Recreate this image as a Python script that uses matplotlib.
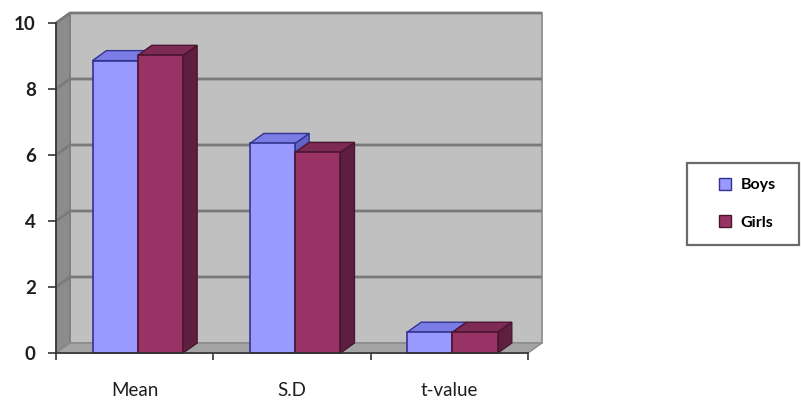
import matplotlib.pyplot as plt
from matplotlib.patches import Polygon, Rectangle
from matplotlib.lines import Line2D

# Group statistics for boys and girls
categories = ['Mean', 'S.D', 't-value']
boys = [8.86, 6.35, 0.63]
girls = [9.02, 6.08, 0.63]
series_names = ['Boys', 'Girls']
y_ticks = [0, 2, 4, 6, 8, 10]

# face colours: front, top, side, edge
boys_col = ('#9999ff', '#7c7ce6', '#6262c8', '#33338f')
girls_col = ('#993366', '#7d2a55', '#5e1f40', '#4a1530')

plt.rcParams['font.family'] = ['Lato', 'DejaVu Sans']

fig = plt.figure(figsize=(8.01, 4.01), dpi=100)
# plot area: x 56..528 px, y 23..353 px (from top)
ax = fig.add_axes([56 / 801, (401 - 353) / 401, 472 / 801, 330 / 401])
ax.set_xlim(0, 3)
ax.set_ylim(0, 10)
ax.patch.set_visible(False)

# depth offset of the 3-D box (data units)
dx = 14 / (472 / 3)
dy = 10 / 33
ymax = 10
ncat = len(categories)

# back wall, side wall and floor
ax.add_patch(Polygon([(dx, dy), (ncat + dx, dy), (ncat + dx, ymax + dy), (dx, ymax + dy)],
                     closed=True, fc='#c0c0c0', ec='#8a8a8a', lw=1.2, zorder=1, clip_on=False))
ax.add_patch(Polygon([(0, 0), (dx, dy), (dx, ymax + dy), (0, ymax)],
                     closed=True, fc='#8c8c8c', ec='#7a7a7a', lw=1.0, zorder=1, clip_on=False))
ax.add_patch(Polygon([(0, 0), (ncat, 0), (ncat + dx, dy), (dx, dy)],
                     closed=True, fc='#a4a4a4', ec='#8a8a8a', lw=1.0, zorder=2, clip_on=False))

# gridlines on side and back wall
for lv in y_ticks[1:]:
    ax.plot([0, dx, ncat + dx], [lv, lv + dy, lv + dy], color='#7a7a7a', lw=2.0,
            zorder=1.5, clip_on=False, solid_capstyle='butt')


def bar3d(x0, w, v, cols, z):
    front, top, side, edge = cols
    ax.add_patch(Polygon([(x0 + w, 0), (x0 + w + dx, dy), (x0 + w + dx, v + dy), (x0 + w, v)],
                         closed=True, fc=side, ec=edge, lw=1.0, zorder=z, clip_on=False))
    ax.add_patch(Polygon([(x0, v), (x0 + w, v), (x0 + w + dx, v + dy), (x0 + dx, v + dy)],
                         closed=True, fc=top, ec=edge, lw=1.0, zorder=z, clip_on=False))
    ax.bar(x0, v, w, align='edge', color=front, edgecolor=edge, lw=1.2, zorder=z + 0.1,
           clip_on=False)


w = 0.288
shift = 0.02
for i in range(ncat):
    c = i + 0.5 + shift
    bar3d(c - w, w, boys[i], boys_col, 5 + i)
    bar3d(c, w, girls[i], girls_col, 5.5 + i)

# axes lines and ticks
for s in ['top', 'right']:
    ax.spines[s].set_visible(False)
for s in ['left', 'bottom']:
    ax.spines[s].set_color('#333333')
    ax.spines[s].set_linewidth(1.2)
    ax.spines[s].set_zorder(20)

ax.set_yticks(y_ticks)
ax.set_yticklabels([str(t) for t in y_ticks], fontsize=13.5, fontweight='bold', color='#1e1e1e')
ax.tick_params(axis='y', length=5.5, width=1.2, color='#333333', pad=9)

ax.set_xticks([i + 0.5 for i in range(ncat)])
ax.set_xticklabels(categories, fontsize=13.5, color='#1e1e1e')
ax.set_xticks(range(ncat + 1), minor=True)
ax.tick_params(axis='x', which='major', length=0, pad=21)
ax.tick_params(axis='x', which='minor', length=5, width=1.2, color='#333333')

# legend box
fig.patches.append(Rectangle((687 / 801, 1 - 245 / 401), 112 / 801, 82 / 401,
                             transform=fig.transFigure, fc='white', ec='#6a6a6a', lw=1.6))
handles = [Line2D([], [], ls='none', marker='s', markersize=8.5, markerfacecolor=boys_col[0],
                  markeredgecolor=boys_col[3]),
           Line2D([], [], ls='none', marker='s', markersize=8.5, markerfacecolor=girls_col[0],
                  markeredgecolor=girls_col[3])]
fig.legend(handles, series_names, loc='center', bbox_to_anchor=(747 / 801, 1 - 204 / 401),
           frameon=False, labelspacing=1.45, handlelength=0.8,
           handletextpad=0.6, prop={'weight': 'bold', 'size': 11.5})

fig.savefig('out.png', dpi=100)
